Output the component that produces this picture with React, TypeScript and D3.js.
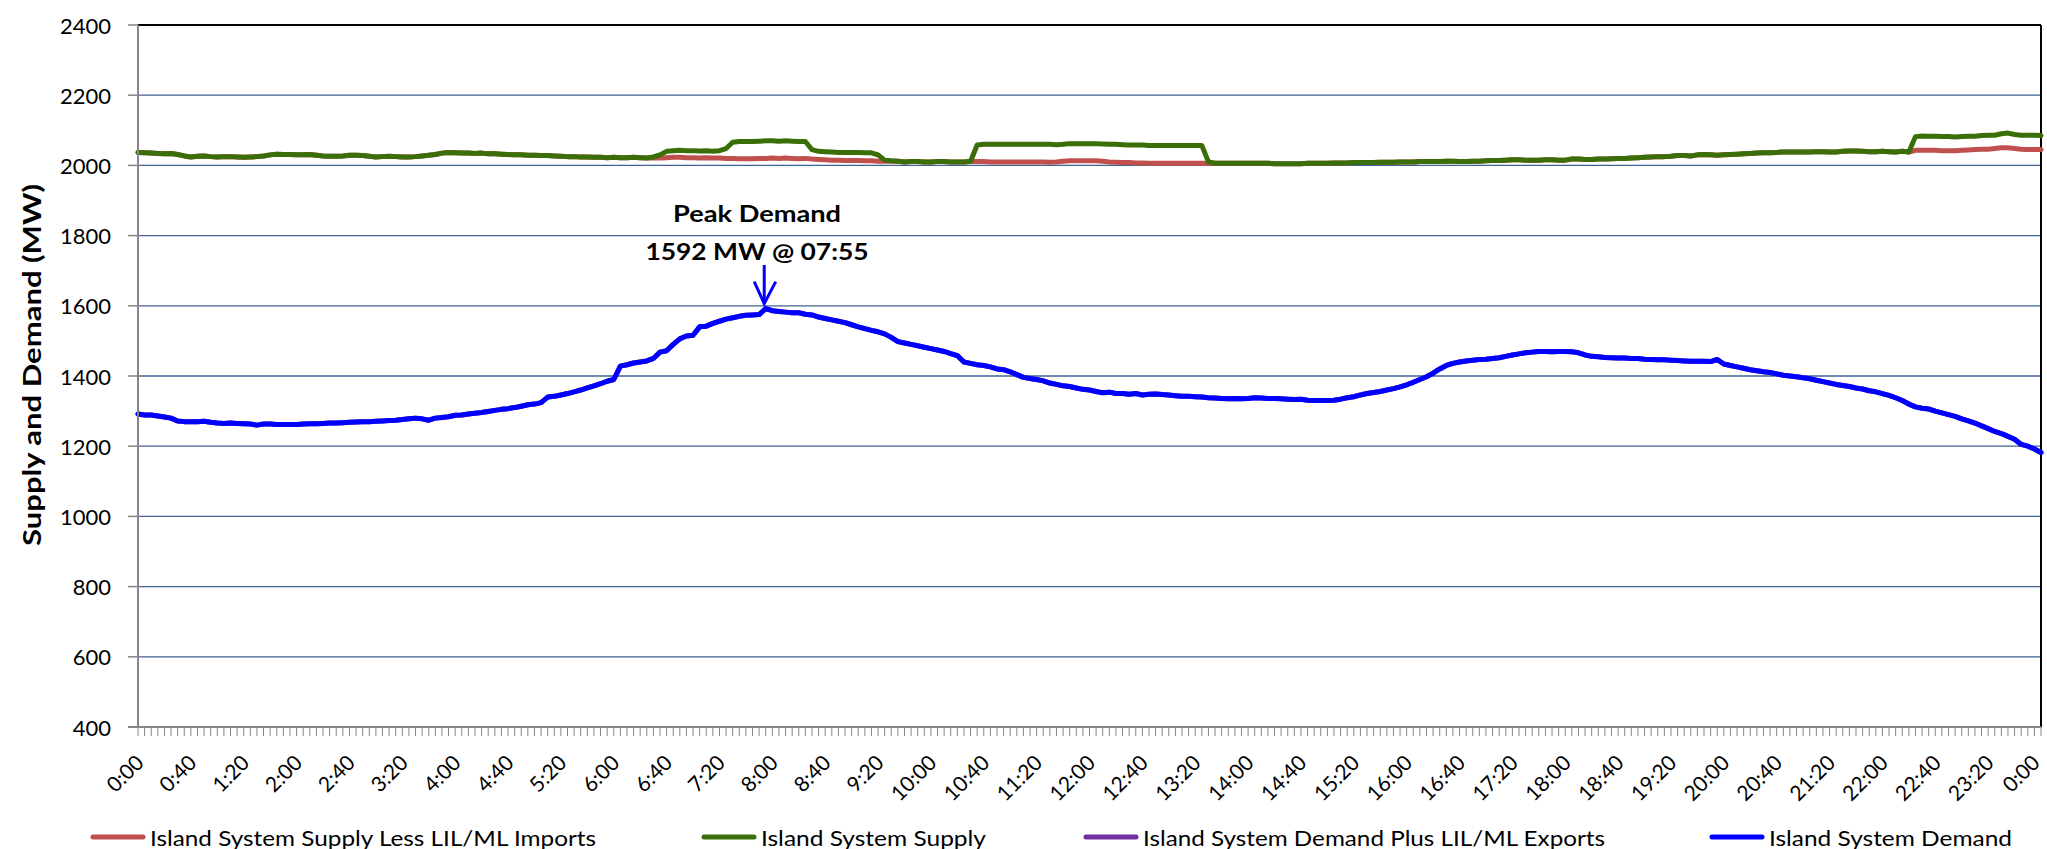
import React, { useEffect } from "react";
import * as d3 from "d3";

// ---------- DATA (5-minute intervals, 0:00 .. 24:00) ----------
const demand: number[] = [
  1292, 1289, 1289, 1286, 1283, 1280, 1272, 1270, 1270, 1270, 1271, 1268,
  1266, 1265, 1266, 1265, 1264, 1263, 1260, 1263, 1263, 1262, 1262, 1262,
  1262, 1263, 1264, 1264, 1265, 1266, 1266, 1267, 1268, 1269, 1270, 1270,
  1271, 1272, 1273, 1274, 1276, 1278, 1280, 1278, 1274, 1280, 1282, 1284,
  1288, 1289, 1292, 1294, 1296, 1299, 1302, 1305, 1307, 1310, 1314, 1318,
  1320, 1324, 1340, 1342, 1346, 1350, 1355, 1360, 1366, 1372, 1378, 1385,
  1390, 1428, 1432, 1437, 1440, 1443, 1450, 1468, 1472, 1490, 1506, 1514,
  1516, 1540, 1542, 1550, 1556, 1562, 1566, 1570, 1573, 1574, 1575, 1592,
  1586, 1584, 1582, 1580, 1580, 1576, 1574, 1568, 1564, 1560, 1556, 1552,
  1546, 1540, 1535, 1530, 1526, 1520, 1510, 1498, 1494, 1490, 1486, 1482,
  1478, 1474, 1470, 1464, 1458, 1440, 1436, 1432, 1430, 1426, 1420, 1418,
  1412, 1404, 1396, 1393, 1390, 1386, 1380, 1376, 1372, 1370, 1366, 1362,
  1360, 1356, 1352, 1354, 1350, 1350, 1348, 1350, 1346, 1348, 1349, 1347,
  1346, 1344, 1342, 1342, 1341, 1340, 1338, 1337, 1336, 1335, 1336, 1335,
  1336, 1338, 1337, 1336, 1336, 1335, 1334, 1333, 1334, 1331, 1330, 1330,
  1330, 1331, 1334, 1338, 1341, 1346, 1350, 1353, 1356, 1360, 1364, 1369,
  1375, 1382, 1390, 1398, 1408, 1420, 1430, 1436, 1440, 1443, 1445, 1447,
  1448, 1450, 1452, 1456, 1460, 1463, 1466, 1468, 1470, 1470, 1469, 1470,
  1470, 1469, 1466, 1460, 1456, 1455, 1453, 1452, 1451, 1451, 1450, 1450,
  1448, 1447, 1446, 1446, 1445, 1444, 1443, 1442, 1442, 1442, 1441, 1447,
  1434, 1430, 1426, 1422, 1418, 1415, 1412, 1410, 1406, 1402, 1400, 1398,
  1395, 1392, 1388, 1384, 1380, 1376, 1373, 1370, 1366, 1363, 1358, 1355,
  1350, 1345, 1338, 1330, 1320, 1312, 1308, 1306, 1300, 1295, 1290, 1285,
  1278, 1272, 1266, 1258, 1250, 1242, 1236, 1228, 1220, 1205, 1200, 1192,
  1182,
];

// No exports on this day: the purple series lies under the blue one.
const demandPlusExports: number[] = [
  1292, 1289, 1289, 1286, 1283, 1280, 1272, 1270, 1270, 1270, 1271, 1268,
  1266, 1265, 1266, 1265, 1264, 1263, 1260, 1263, 1263, 1262, 1262, 1262,
  1262, 1263, 1264, 1264, 1265, 1266, 1266, 1267, 1268, 1269, 1270, 1270,
  1271, 1272, 1273, 1274, 1276, 1278, 1280, 1278, 1274, 1280, 1282, 1284,
  1288, 1289, 1292, 1294, 1296, 1299, 1302, 1305, 1307, 1310, 1314, 1318,
  1320, 1324, 1340, 1342, 1346, 1350, 1355, 1360, 1366, 1372, 1378, 1385,
  1390, 1428, 1432, 1437, 1440, 1443, 1450, 1468, 1472, 1490, 1506, 1514,
  1516, 1540, 1542, 1550, 1556, 1562, 1566, 1570, 1573, 1574, 1575, 1592,
  1586, 1584, 1582, 1580, 1580, 1576, 1574, 1568, 1564, 1560, 1556, 1552,
  1546, 1540, 1535, 1530, 1526, 1520, 1510, 1498, 1494, 1490, 1486, 1482,
  1478, 1474, 1470, 1464, 1458, 1440, 1436, 1432, 1430, 1426, 1420, 1418,
  1412, 1404, 1396, 1393, 1390, 1386, 1380, 1376, 1372, 1370, 1366, 1362,
  1360, 1356, 1352, 1354, 1350, 1350, 1348, 1350, 1346, 1348, 1349, 1347,
  1346, 1344, 1342, 1342, 1341, 1340, 1338, 1337, 1336, 1335, 1336, 1335,
  1336, 1338, 1337, 1336, 1336, 1335, 1334, 1333, 1334, 1331, 1330, 1330,
  1330, 1331, 1334, 1338, 1341, 1346, 1350, 1353, 1356, 1360, 1364, 1369,
  1375, 1382, 1390, 1398, 1408, 1420, 1430, 1436, 1440, 1443, 1445, 1447,
  1448, 1450, 1452, 1456, 1460, 1463, 1466, 1468, 1470, 1470, 1469, 1470,
  1470, 1469, 1466, 1460, 1456, 1455, 1453, 1452, 1451, 1451, 1450, 1450,
  1448, 1447, 1446, 1446, 1445, 1444, 1443, 1442, 1442, 1442, 1441, 1447,
  1434, 1430, 1426, 1422, 1418, 1415, 1412, 1410, 1406, 1402, 1400, 1398,
  1395, 1392, 1388, 1384, 1380, 1376, 1373, 1370, 1366, 1363, 1358, 1355,
  1350, 1345, 1338, 1330, 1320, 1312, 1308, 1306, 1300, 1295, 1290, 1285,
  1278, 1272, 1266, 1258, 1250, 1242, 1236, 1228, 1220, 1205, 1200, 1192,
  1182,
];

const supply: number[] = [
  2037, 2036, 2035, 2034, 2033, 2034, 2031, 2027, 2024, 2026, 2027, 2025,
  2024, 2025, 2025, 2024, 2023, 2024, 2025, 2027, 2030, 2032, 2031, 2031,
  2030, 2030, 2031, 2029, 2027, 2026, 2026, 2027, 2029, 2029, 2028, 2026,
  2024, 2025, 2026, 2025, 2024, 2024, 2025, 2027, 2029, 2031, 2035, 2037,
  2036, 2035, 2035, 2034, 2035, 2033, 2033, 2032, 2031, 2030, 2030, 2029,
  2029, 2028, 2028, 2027, 2026, 2025, 2025, 2024, 2024, 2023, 2023, 2022,
  2023, 2022, 2022, 2023, 2022, 2021, 2024, 2030, 2040, 2042, 2043, 2042,
  2042, 2041, 2042, 2040, 2042, 2048, 2066, 2068, 2068, 2068, 2069, 2070,
  2070, 2069, 2070, 2069, 2068, 2068, 2045, 2040, 2039, 2038, 2037, 2037,
  2037, 2037, 2036, 2036, 2030, 2015, 2013, 2012, 2010, 2011, 2011, 2010,
  2010, 2011, 2011, 2010, 2010, 2010, 2012, 2058, 2060, 2060, 2060, 2060,
  2060, 2060, 2060, 2060, 2060, 2060, 2060, 2059, 2060, 2062, 2062, 2062,
  2062, 2062, 2061, 2060, 2060, 2059, 2058, 2058, 2058, 2057, 2057, 2057,
  2057, 2057, 2057, 2057, 2057, 2057, 2010, 2006, 2006, 2006, 2006, 2006,
  2006, 2006, 2006, 2006, 2005, 2005, 2005, 2005, 2005, 2006, 2006, 2006,
  2006, 2007, 2007, 2007, 2008, 2008, 2008, 2008, 2009, 2009, 2009, 2010,
  2010, 2010, 2011, 2011, 2011, 2011, 2012, 2012, 2011, 2011, 2012, 2012,
  2013, 2014, 2014, 2015, 2016, 2016, 2015, 2015, 2015, 2016, 2016, 2015,
  2015, 2018, 2018, 2017, 2017, 2018, 2018, 2019, 2020, 2020, 2021, 2022,
  2023, 2024, 2025, 2025, 2026, 2028, 2028, 2027, 2030, 2031, 2030, 2029,
  2030, 2031, 2032, 2033, 2034, 2035, 2036, 2036, 2037, 2038, 2038, 2038,
  2038, 2038, 2039, 2039, 2038, 2038, 2040, 2041, 2041, 2040, 2039, 2039,
  2040, 2039, 2038, 2040, 2038, 2082, 2084, 2083, 2083, 2082, 2082, 2081,
  2082, 2083, 2083, 2085, 2086, 2086, 2090, 2092, 2088, 2086, 2086, 2086,
  2085,
];

const supplyLessImports: number[] = [
  2037, 2036, 2035, 2034, 2033, 2034, 2031, 2027, 2024, 2026, 2027, 2025,
  2024, 2025, 2025, 2024, 2023, 2024, 2025, 2027, 2030, 2032, 2031, 2031,
  2030, 2030, 2031, 2029, 2027, 2026, 2026, 2027, 2029, 2029, 2028, 2026,
  2024, 2025, 2026, 2025, 2024, 2024, 2025, 2027, 2029, 2031, 2035, 2037,
  2036, 2035, 2035, 2034, 2035, 2033, 2033, 2032, 2031, 2030, 2030, 2029,
  2029, 2028, 2028, 2027, 2026, 2025, 2025, 2024, 2024, 2023, 2023, 2022,
  2023, 2022, 2022, 2023, 2022, 2021, 2022, 2021, 2022, 2023, 2023, 2022,
  2022, 2021, 2022, 2021, 2021, 2020, 2020, 2019, 2019, 2019, 2020, 2020,
  2021, 2020, 2021, 2020, 2019, 2020, 2018, 2017, 2016, 2015, 2015, 2014,
  2014, 2014, 2013, 2013, 2012, 2012, 2012, 2012, 2010, 2011, 2011, 2010,
  2010, 2011, 2011, 2010, 2010, 2010, 2011, 2011, 2011, 2010, 2010, 2010,
  2010, 2010, 2010, 2010, 2010, 2010, 2009, 2010, 2012, 2013, 2013, 2013,
  2013, 2013, 2012, 2010, 2009, 2008, 2008, 2007, 2007, 2006, 2006, 2006,
  2006, 2006, 2006, 2006, 2006, 2006, 2006, 2006, 2006, 2006, 2006, 2006,
  2006, 2006, 2006, 2006, 2005, 2005, 2005, 2005, 2005, 2006, 2006, 2006,
  2006, 2007, 2007, 2007, 2008, 2008, 2008, 2008, 2009, 2009, 2009, 2010,
  2010, 2010, 2011, 2011, 2011, 2011, 2012, 2012, 2011, 2011, 2012, 2012,
  2013, 2014, 2014, 2015, 2016, 2016, 2015, 2015, 2015, 2016, 2016, 2015,
  2015, 2018, 2018, 2017, 2017, 2018, 2018, 2019, 2020, 2020, 2021, 2022,
  2023, 2024, 2025, 2025, 2026, 2028, 2028, 2027, 2030, 2031, 2030, 2029,
  2030, 2031, 2032, 2033, 2034, 2035, 2036, 2036, 2037, 2038, 2038, 2038,
  2038, 2038, 2039, 2039, 2038, 2038, 2040, 2041, 2041, 2040, 2039, 2039,
  2040, 2039, 2038, 2040, 2038, 2043, 2043, 2043, 2043, 2042, 2042, 2042,
  2043, 2044, 2045, 2046, 2046, 2048, 2050, 2050, 2048, 2046, 2045, 2045,
  2045,
];

const timeLabels: string[] = [
  "0:00", "0:40", "1:20", "2:00", "2:40", "3:20", "4:00", "4:40", "5:20",
  "6:00", "6:40", "7:20", "8:00", "8:40", "9:20", "10:00", "10:40", "11:20",
  "12:00", "12:40", "13:20", "14:00", "14:40", "15:20", "16:00", "16:40",
  "17:20", "18:00", "18:40", "19:20", "20:00", "20:40", "21:20", "22:00",
  "22:40", "23:20", "0:00",
];
const labelEvery = 8; // one label every 8 five-minute points (40 min)

const yTicks: number[] = [400, 600, 800, 1000, 1200, 1400, 1600, 1800, 2000, 2200, 2400];

const seriesNames: string[] = [
  "Island System Supply Less LIL/ML Imports",
  "Island System Supply",
  "Island System Demand Plus LIL/ML Exports",
  "Island System Demand",
];
const seriesColors: string[] = ["#C0504D", "#3A6E08", "#7030A0", "#0000FF"];

const peakIndex = 95; // 07:55
const peakValue = 1592;
const peakTitle = "Peak Demand";
const peakLabel = "1592 MW @ 07:55";

// ---------- LAYOUT ----------
const W = 2047;
const H = 849;
const left = 138;
const right = 2041;
const top = 25;
const bottom = 727;
const FONT = "Lato, 'Open Sans', sans-serif";

const legendLayout = [
  { x: 91, textW: 446 },
  { x: 702, textW: 225 },
  { x: 1084, textW: 462 },
  { x: 1710, textW: 243 },
];

export default function App() {
  useEffect(() => {
    document.body.style.margin = "0";
    document.body.style.overflow = "hidden";
  }, []);

  const n = demand.length;
  const x = d3.scaleLinear().domain([0, n - 1]).range([left, right]);
  const y = d3.scaleLinear().domain([400, 2400]).range([bottom, top]);

  const line = d3
    .line<number>()
    .x((_, i) => x(i))
    .y((d) => y(d));

  const allSeries = [supplyLessImports, supply, demandPlusExports, demand];

  const minorTicks = d3.range(0, n);

  const px = x(peakIndex);
  const py = y(peakValue);

  return (
    <svg width={W} height={H} style={{ display: "block", background: "#fff" }} fontFamily={FONT}>
      {/* gridlines */}
      {yTicks.slice(1, -1).map((t) => (
        <line key={"g" + t} x1={left} x2={right} y1={y(t)} y2={y(t)} stroke="#3F6395" strokeWidth={1.3} />
      ))}
      {/* plot border top/right */}
      <line x1={left} x2={right} y1={y(2400)} y2={y(2400)} stroke="#000" strokeWidth={2} />
      <line x1={right} x2={right} y1={top} y2={bottom} stroke="#000" strokeWidth={2} />

      {/* series */}
      {allSeries.map((s, k) => (
        <path
          key={"s" + k}
          d={line(s) || ""}
          fill="none"
          stroke={seriesColors[k]}
          strokeWidth={5}
          strokeLinejoin="round"
          strokeLinecap="round"
        />
      ))}

      {/* y axis */}
      <line x1={left} x2={left} y1={top} y2={bottom} stroke="#868686" strokeWidth={2} />
      {yTicks.map((t) => (
        <g key={"yt" + t}>
          <line x1={left - 10} x2={left} y1={y(t)} y2={y(t)} stroke="#868686" strokeWidth={1.5} />
          <text x={111} y={y(t)} textAnchor="end" dominantBaseline="central" fontSize={22} fill="#000">
            {t}
          </text>
        </g>
      ))}

      {/* x axis */}
      <line x1={left - 10} x2={right} y1={bottom} y2={bottom} stroke="#868686" strokeWidth={2} />
      {minorTicks.map((i) => (
        <line key={"xt" + i} x1={x(i)} x2={x(i)} y1={bottom} y2={bottom + 9} stroke="#868686" strokeWidth={1} />
      ))}
      {timeLabels.map((lab, j) => {
        const tx = Math.min(x(j * labelEvery) + 1, W - 12);
        const ty = 758;
        return (
          <text
            key={"xl" + j}
            x={tx}
            y={ty}
            textAnchor="end"
            dominantBaseline="central"
            fontSize={21}
            fill="#000"
            transform={`rotate(-45 ${tx} ${ty})`}
          >
            {lab}
          </text>
        );
      })}

      {/* y title */}
      <text
        x={0}
        y={0}
        transform={`translate(41 365) rotate(-90)`}
        textAnchor="middle"
        fontSize={24}
        fontWeight="bold"
        fill="#000"
        textLength={362}
        lengthAdjust="spacingAndGlyphs"
      >
        Supply and Demand (MW)
      </text>

      {/* peak annotation */}
      <text x={757} y={222} textAnchor="middle" fontSize={22} fontWeight="bold" textLength={168} lengthAdjust="spacingAndGlyphs">
        {peakTitle}
      </text>
      <text x={757} y={260} textAnchor="middle" fontSize={22} fontWeight="bold" textLength={223} lengthAdjust="spacingAndGlyphs">
        {peakLabel}
      </text>
      <line x1={px - 1.5} x2={px - 1.5} y1={265} y2={py - 5} stroke="#0000FF" strokeWidth={3} />
      <polyline
        points={`${px - 11.5},${py - 27} ${px - 1.5},${py - 5} ${px + 10},${py - 27}`}
        fill="none"
        stroke="#0000FF"
        strokeWidth={3}
      />

      {/* legend */}
      {seriesNames.map((name, k) => (
        <g key={"lg" + k}>
          <line
            x1={legendLayout[k].x + 2}
            x2={legendLayout[k].x + 52}
            y1={837}
            y2={837}
            stroke={seriesColors[k]}
            strokeWidth={5}
            strokeLinecap="round"
          />
          <text
            x={legendLayout[k].x + 59}
            y={837}
            dominantBaseline="central"
            fontSize={22}
            fill="#000"
            textLength={legendLayout[k].textW}
            lengthAdjust="spacingAndGlyphs"
          >
            {name}
          </text>
        </g>
      ))}
    </svg>
  );
}
